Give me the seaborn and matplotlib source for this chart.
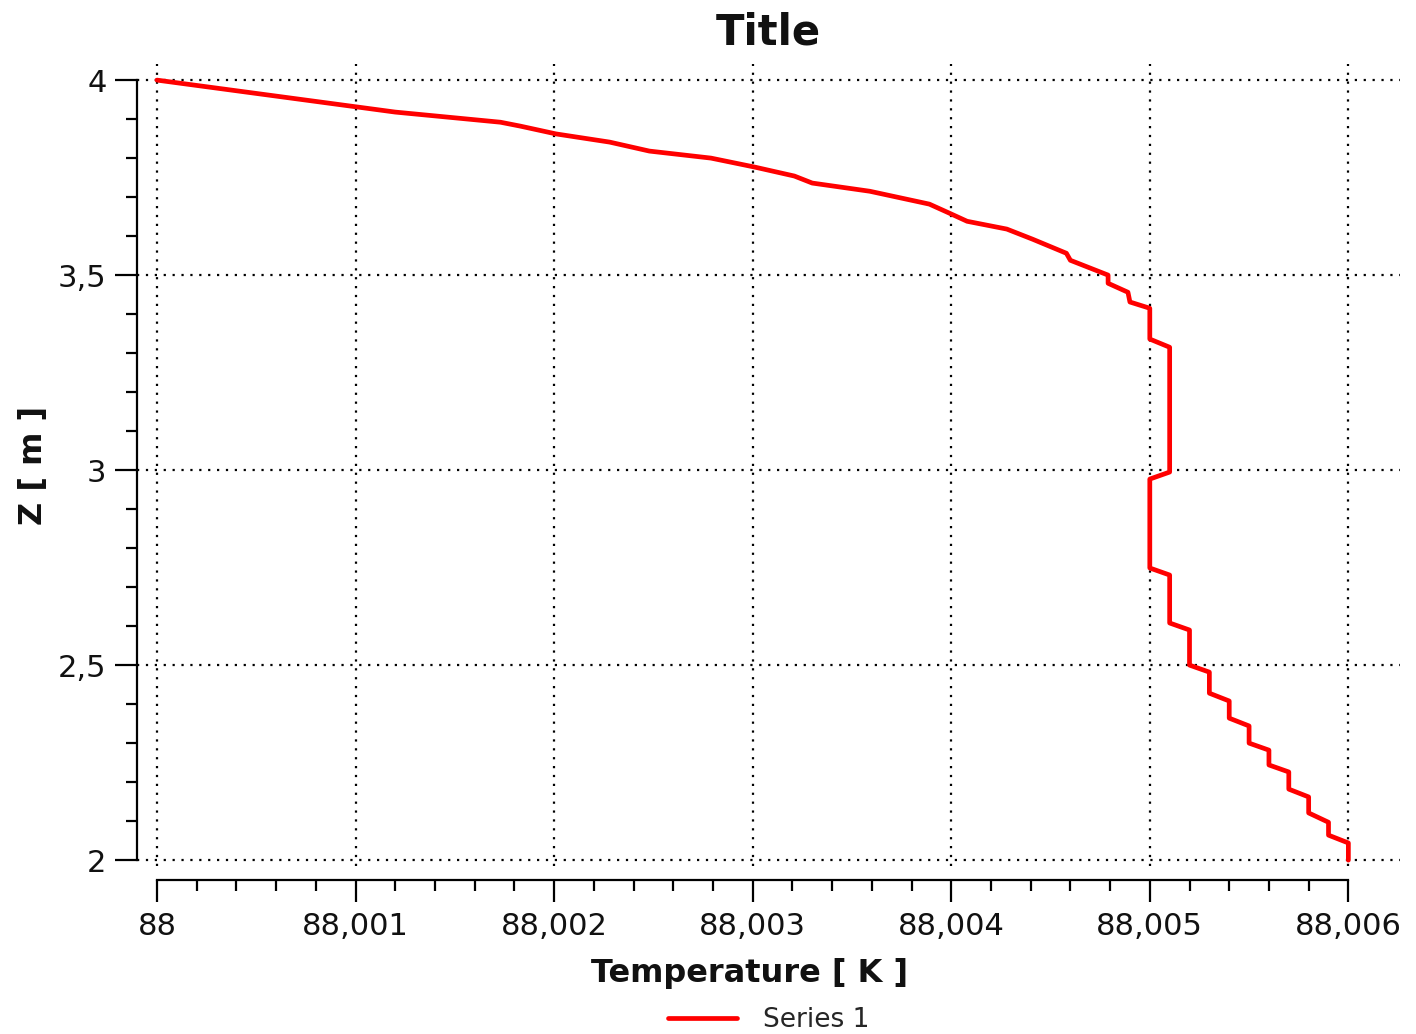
import matplotlib
matplotlib.use("Agg")
import matplotlib.pyplot as plt
import seaborn as sns
import pandas as pd
from matplotlib.ticker import FixedLocator

# Temperature profile along Z
temperature = [
    88.0, 88.0012, 88.00173, 88.00183, 88.00201, 88.00228, 88.00248, 88.00279,
    88.00301, 88.00321, 88.0033, 88.00359, 88.00389, 88.00399, 88.00408,
    88.00428, 88.00441, 88.00458, 88.0046, 88.00479, 88.00479, 88.00489,
    88.0049, 88.005, 88.005, 88.0051, 88.0051, 88.005, 88.005, 88.0051,
    88.0051, 88.0052, 88.0052, 88.0053, 88.0053, 88.0054, 88.0054, 88.0055,
    88.0055, 88.0056, 88.0056, 88.0057, 88.0057, 88.0058, 88.0058, 88.0059,
    88.0059, 88.006, 88.006,
]
z = [
    4.0, 3.918, 3.892, 3.882, 3.862, 3.841, 3.818, 3.800, 3.777, 3.754, 3.736,
    3.715, 3.682, 3.659, 3.638, 3.618, 3.592, 3.556, 3.538, 3.500, 3.479,
    3.456, 3.431, 3.415, 3.336, 3.315, 2.995, 2.977, 2.749, 2.731, 2.608,
    2.590, 2.500, 2.482, 2.428, 2.408, 2.364, 2.344, 2.300, 2.282, 2.244,
    2.226, 2.182, 2.162, 2.121, 2.097, 2.064, 2.044, 2.000,
]

x_ticks = [88.0, 88.001, 88.002, 88.003, 88.004, 88.005, 88.006]
x_labels = ["88", "88,001", "88,002", "88,003", "88,004", "88,005", "88,006"]
y_ticks = [2.0, 2.5, 3.0, 3.5, 4.0]
y_labels = ["2", "2,5", "3", "3,5", "4"]

df = pd.DataFrame({"Temperature": temperature, "Z": z})

sns.set_style("white")
plt.rcParams["font.family"] = ["DejaVu Sans"]

fig = plt.figure(figsize=(14.16, 10.34), dpi=100)
ax = fig.add_axes([0.0968, 0.1625, 0.9887 - 0.0968, 0.938 - 0.1625])

sns.lineplot(data=df, x="Temperature", y="Z", sort=False, estimator=None,
             color="#ff0000", linewidth=3.4, label="Series 1", ax=ax)

ax.set_xlim(88.0 - 0.0001, 88.00626)
ax.set_ylim(1.985, 4.041)

# 5 minor steps between majors, only inside the labelled range
x_minor = [x_ticks[0] + i * 0.0002 for i in range(31)]
y_minor = [y_ticks[0] + i * 0.1 for i in range(21)]
ax.xaxis.set_major_locator(FixedLocator(x_ticks))
ax.set_xticklabels(x_labels)
ax.xaxis.set_minor_locator(FixedLocator(x_minor))
ax.yaxis.set_major_locator(FixedLocator(y_ticks))
ax.set_yticklabels(y_labels)
ax.yaxis.set_minor_locator(FixedLocator(y_minor))

ax.grid(True, which="major", color="black", linestyle=(0, (1, 3)), linewidth=1.6)

for side in ["top", "right"]:
    ax.spines[side].set_visible(False)
ax.spines["left"].set_bounds(2.0, 4.0)
ax.spines["bottom"].set_bounds(88.0, 88.006)
ax.spines["bottom"].set_position(("outward", 10))
for side in ["left", "bottom"]:
    ax.spines[side].set_color("black")
    ax.spines[side].set_linewidth(1.6)

ax.tick_params(which="major", direction="out", length=16, width=1.6,
               color="black", labelsize=22, labelcolor="#111111")
ax.tick_params(which="minor", direction="out", length=8, width=1.6, color="black")
ax.tick_params(axis="x", which="both", bottom=True, pad=7)
ax.tick_params(axis="y", which="both", left=True, pad=6)

ax.set_title("Title", fontsize=30, fontweight="bold", pad=14, color="#111111")
ax.set_xlabel("Temperature [ K ]", fontsize=23, fontweight="bold", color="#111111")
ax.set_ylabel("Z [ m ]", fontsize=23, fontweight="bold", color="#111111")
ax.xaxis.set_label_coords(0.485, -0.115)
ax.yaxis.set_label_coords(-0.07, 0.5)

ax.get_legend().remove()
fig.legend(loc="lower center", bbox_to_anchor=(0.543, -0.022), frameon=False,
           fontsize=19, handlelength=2.6, handletextpad=1.0)

fig.savefig("out.png", dpi=100)
